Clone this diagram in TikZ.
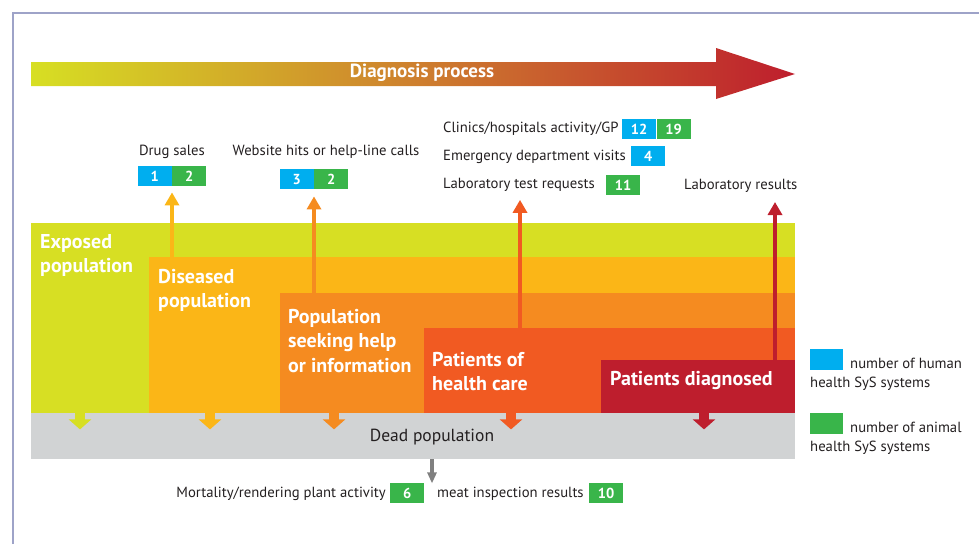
\documentclass[tikz,border=0pt]{standalone}
\usepackage{fontspec}
\setmainfont{PT Sans}
\usetikzlibrary{arrows.meta,positioning}

\definecolor{framecol}{HTML}{9EA3C8}
\definecolor{expcol}{HTML}{D7DF23}
\definecolor{discol}{HTML}{FBB617}
\definecolor{seekcol}{HTML}{F58B20}
\definecolor{carecol}{HTML}{F15A22}
\definecolor{diagcol}{HTML}{BE1E2D}
\definecolor{deadcol}{HTML}{D1D3D4}
\definecolor{humcol}{HTML}{00AEEF}
\definecolor{anicol}{HTML}{39B54A}
\definecolor{txtcol}{HTML}{231F20}

\tikzset{
    region/.style={fill=#1, anchor=north west, inner sep=0pt},
    regtxt/.style={text=white, font=\fontsize{20}{24.5}\selectfont\bfseries,
        align=left, anchor=north west, inner sep=0pt},
    lbl/.style={text=txtcol, font=\fontsize{14.7}{17}\selectfont, inner sep=0pt},
    numbox/.style={fill=#1, text=white, font=\fontsize{14.5}{16}\selectfont\bfseries,
        minimum width=34pt, minimum height=20pt, inner sep=0pt},
    uparr/.style={line width=3.5pt, -{Triangle[width=14pt,length=13pt]}},
    downarr/.style={line width=10pt, -{Triangle[width=22pt,length=10pt]}},
}

\begin{document}
\begin{tikzpicture}[x=1pt,y=-1pt]
    \useasboundingbox (0,0) rectangle (979,544);
    \draw[framecol, line width=2pt] (13,544) -- (13,13) -- (979,13);

    % process arrow
    \shade[left color=expcol, right color=diagcol,
        middle color={rgb,255:red,206;green,128;blue,46}]
        (31,62) -- (716,62) -- (716,48) -- (795,74) -- (716,99) -- (716,86) -- (31,86) -- cycle;
    \node[text=white, font=\fontsize{19}{21}\selectfont\bfseries] (process) at (422,73) {Diagnosis process};

    % populations
    \node[region=expcol, minimum width=764pt, minimum height=190pt] (exposed) at (31,223) {};
    \node[region=discol, minimum width=646pt, minimum height=156pt] (diseased) at (149,257) {};
    \node[region=seekcol, minimum width=515pt, minimum height=120pt] (seeking) at (280,293) {};
    \node[region=carecol, minimum width=371pt, minimum height=85pt] (healthcare) at (424,328) {};
    \node[region=diagcol, minimum width=194pt, minimum height=53pt] (diagnosed) at (601,360) {};
    \node[region=deadcol, minimum width=764pt, minimum height=46pt] (dead) at (31,413) {};

    \node[regtxt] (exposedtxt) at (40,234) {Exposed\\population};
    \node[regtxt] (diseasedtxt) at (158,269) {Diseased\\population};
    \node[regtxt] (seekingtxt) at (288,309) {Population\\seeking help\\or information};
    \node[regtxt] (healthcaretxt) at (432,352) {Patients of\\health care};
    \node[regtxt] (diagnosedtxt) at (610,371) {Patients diagnosed};
    \node[lbl, font=\fontsize{17.5}{20}\selectfont] (deadtxt) at (432,437) {Dead population};

    % deaths
    \foreach \r/\c/\dx in {exposed/expcol/49, diseased/discol/61, seeking/seekcol/54,
        healthcare/carecol/87, diagnosed/diagcol/103}
        \draw[downarr, \c] ([xshift=\dx pt]\r.south west) -- ++(0,16);

    % data sources
    \node[lbl] (drugs) at (172,152) {Drug sales};
    \node[numbox=humcol, anchor=north east] (drugs1) at (172,166) {1};
    \node[numbox=anicol, right=0pt of drugs1] (drugs2) {2};

    \node[lbl] (website) at (326,152) {Website hits or help-line calls};
    \node[numbox=humcol, anchor=north east] (web1) at (314,169) {3};
    \node[numbox=anicol, right=0pt of web1] (web2) {2};

    \node[lbl, anchor=west] (clinics) at (443,129) {Clinics/hospitals activity/GP};
    \node[numbox=humcol, anchor=west] (clin1) at (622,129) {12};
    \node[numbox=anicol, right=0pt of clin1] (clin2) {19};

    \node[lbl, anchor=west] (emerg) at (443,157) {Emergency department visits};
    \node[numbox=humcol, anchor=west] (emerg1) at (631,156) {4};

    \node[lbl, anchor=west] (labreq) at (443,185) {Laboratory test requests};
    \node[numbox=anicol, anchor=west] (labreq1) at (606,185) {11};

    \node[lbl, anchor=west] (labres) at (684,186) {Laboratory results};
    \coordinate (labrestip) at (775,202);

    \draw[uparr, discol] (drugs1.south east |- diseased.north) -- ([yshift=-6pt]drugs1.south east);
    \draw[uparr, seekcol] (web1.south east |- seeking.north) -- ([yshift=-7pt]web1.south east);
    \draw[uparr, carecol] (healthcare.north -| 520,0) -- ([yshift=-8pt]labreq.south -| 520,0);
    \draw[uparr, diagcol] (diagnosed.north -| labrestip) -- (labrestip);

    % carcasses
    \node[lbl, anchor=east] (mort) at (386,494) {Mortality/rendering plant activity};
    \node[numbox=anicol, anchor=west] (mort1) at (390,493) {6};
    \node[lbl, anchor=west] (meat) at (437,494) {meat inspection results};
    \node[numbox=anicol, anchor=west] (meat1) at (589,493) {10};
    \draw[line width=4pt, gray, -{Triangle[width=9pt,length=11pt]}]
        (deadtxt |- dead.south) -- ([yshift=-24pt]deadtxt |- dead.south);

    % legend
    \node[fill=humcol, anchor=north west, minimum width=33pt, minimum height=21pt, inner sep=0pt] (leghum) at (810,349) {};
    \node[lbl, anchor=south west] (leghumtxt) at (850,369) {number of human};
    \node[lbl, anchor=north west] (leghumtxt2) at (810,377) {health SyS systems};
    \node[fill=anicol, anchor=north west, minimum width=33pt, minimum height=21pt, inner sep=0pt] (legani) at (810,413) {};
    \node[lbl, anchor=south west] (leganitxt) at (850,433) {number of animal};
    \node[lbl, anchor=north west] (leganitxt2) at (810,441) {health SyS systems};
\end{tikzpicture}
\end{document}
